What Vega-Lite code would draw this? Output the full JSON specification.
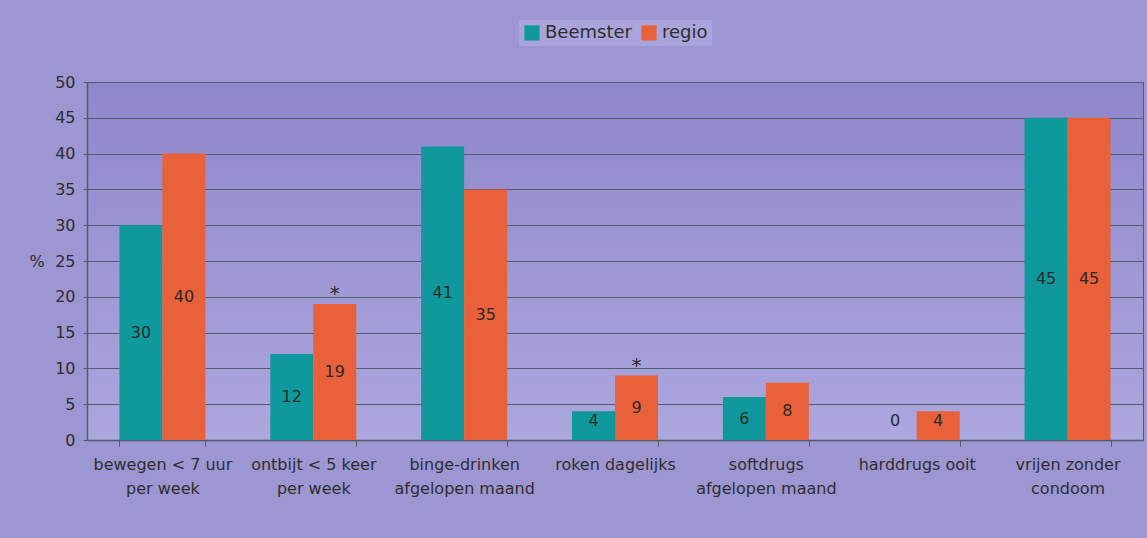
{
  "$schema": "https://vega.github.io/schema/vega-lite/v6.json",
  "autosize": "none",
  "width": 1056,
  "height": 358,
  "padding": {"left": 87, "top": 82, "right": 4, "bottom": 98},
  "background": "#9c96d3",
  "config": {
    "font": "DejaVu Sans",
    "view": {"stroke": "#4f5d68", "strokeWidth": 1,
      "fill": {"gradient": "linear", "x1": 0, "y1": 0, "x2": 0, "y2": 1,
        "stops": [{"offset": 0, "color": "#8e87cb"}, {"offset": 1, "color": "#aca7de"}]}},
    "axis": {"labelFont": "DejaVu Sans", "labelColor": "#2e2e2e", "labelFontSize": 16, "titleColor": "#2e2e2e"},
    "axisY": {
      "labelOverlap": false,
      "gridColor": "#4f5d68", "gridWidth": 1,
      "domainColor": "#4f5d68", "domainWidth": 1.5, "tickColor": "#4f5d68", "tickSize": 4,
      "labelPadding": 8,
      "titleAngle": 0, "titleFontSize": 16, "titleFontWeight": "normal",
      "titleAlign": "left", "titleBaseline": "middle", "titleX": -58, "titleY": 179
    }
  },
  "data": {
    "values": [
      {"cat": "bewegen < 7 uur|per week", "group": "Beemster", "value": 30, "sig": ""},
      {"cat": "bewegen < 7 uur|per week", "group": "regio", "value": 40, "sig": ""},
      {"cat": "ontbijt < 5 keer|per week", "group": "Beemster", "value": 12, "sig": ""},
      {"cat": "ontbijt < 5 keer|per week", "group": "regio", "value": 19, "sig": "*"},
      {"cat": "binge-drinken|afgelopen maand", "group": "Beemster", "value": 41, "sig": ""},
      {"cat": "binge-drinken|afgelopen maand", "group": "regio", "value": 35, "sig": ""},
      {"cat": "roken dagelijks", "group": "Beemster", "value": 4, "sig": ""},
      {"cat": "roken dagelijks", "group": "regio", "value": 9, "sig": "*"},
      {"cat": "softdrugs|afgelopen maand", "group": "Beemster", "value": 6, "sig": ""},
      {"cat": "softdrugs|afgelopen maand", "group": "regio", "value": 8, "sig": ""},
      {"cat": "harddrugs ooit", "group": "Beemster", "value": 0, "sig": ""},
      {"cat": "harddrugs ooit", "group": "regio", "value": 4, "sig": ""},
      {"cat": "vrijen zonder|condoom", "group": "Beemster", "value": 45, "sig": ""},
      {"cat": "vrijen zonder|condoom", "group": "regio", "value": 45, "sig": ""}
    ]
  },
  "transform": [{"calculate": "max(datum.value / 2, 2.7)", "as": "mid"}],
  "encoding": {
    "x": {
      "field": "cat", "type": "nominal", "sort": null,
      "scale": {"paddingInner": 0.43, "paddingOuter": 0.215},
      "axis": {
        "title": null, "labelAngle": 0, "labelExpr": "split(datum.label, '|')",
        "labelLineHeight": 24, "labelPadding": 10, "tickBand": "extent",
        "tickColor": "#4f5d68", "tickSize": 6, "domainColor": "#4f5d68", "domainWidth": 1.5,
        "grid": false, "labelBaseline": "top"
      }
    },
    "xOffset": {"field": "group", "type": "nominal", "scale": {"paddingInner": 0, "paddingOuter": 0}}
  },
  "layer": [
    {
      "mark": {"type": "bar"},
      "encoding": {
        "y": {
          "field": "value", "type": "quantitative",
          "scale": {"domain": [0, 50]},
          "axis": {"values": [0, 5, 10, 15, 20, 25, 30, 35, 40, 45, 50], "title": "%"}
        },
        "color": {
          "field": "group", "type": "nominal",
          "scale": {"domain": ["Beemster", "regio"], "range": ["#0f999c", "#e8613a"]},
          "legend": {
            "title": null, "orient": "none", "direction": "horizontal",
            "legendX": 432, "legendY": -62,
            "symbolType": "square", "symbolSize": 230, "symbolStrokeWidth": 0,
            "labelFontSize": 18, "labelColor": "#2e2e2e", "labelFont": "DejaVu Sans",
            "columnPadding": 8, "symbolOffset": 0, "labelOffset": 4,
            "fillColor": "#aaa4dc", "padding": 4
          }
        }
      }
    },
    {
      "mark": {"type": "text", "fontSize": 16, "color": "#2a2a2a", "baseline": "middle"},
      "encoding": {
        "y": {"field": "mid", "type": "quantitative",
          "axis": {"values": [0, 5, 10, 15, 20, 25, 30, 35, 40, 45, 50], "title": "%"}},
        "text": {"field": "value", "type": "quantitative", "format": "d"}
      }
    },
    {
      "mark": {"type": "text", "fontSize": 20, "color": "#2a2a2a", "baseline": "bottom"},
      "encoding": {
        "y": {"field": "value", "type": "quantitative",
          "axis": {"values": [0, 5, 10, 15, 20, 25, 30, 35, 40, 45, 50], "title": "%"}},
        "text": {"field": "sig"}
      }
    }
  ]
}
